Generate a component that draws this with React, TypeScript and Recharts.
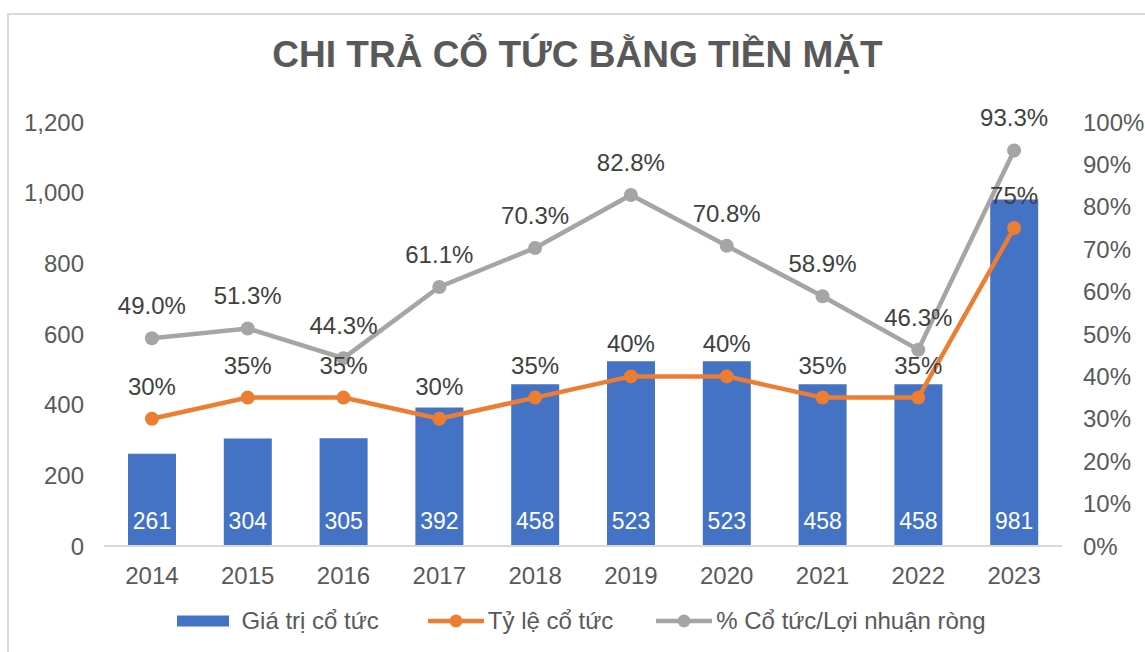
import React from 'react';
import {
  ComposedChart, Bar, Line, XAxis, YAxis, LabelList, Legend,
} from 'recharts';

const years = ['2014', '2015', '2016', '2017', '2018', '2019', '2020', '2021', '2022', '2023'];
const dividendValue = [261, 304, 305, 392, 458, 523, 523, 458, 458, 981];
const payoutRatio = [30, 35, 35, 30, 35, 40, 40, 35, 35, 75];
const profitShare = [49.0, 51.3, 44.3, 61.1, 70.3, 82.8, 70.8, 58.9, 46.3, 93.3];
const leftTicks = [0, 200, 400, 600, 800, 1000, 1200];
const rightTicks = [0, 10, 20, 30, 40, 50, 60, 70, 80, 90, 100];

const title = 'CHI TRẢ CỔ TỨC BẰNG TIỀN MẶT';
const seriesNames = {
  value: 'Giá trị cổ tức',
  ratio: 'Tỷ lệ cổ tức',
  share: '% Cổ tức/Lợi nhuận ròng',
};

const COLORS = { value: '#4472c4', ratio: '#ed7d31', share: '#a5a5a5' };
const FONT = '"Liberation Sans", Arial, sans-serif';
const FS = 24;

const data = years.map((y, i) => ({
  year: y,
  value: dividendValue[i],
  ratio: payoutRatio[i],
  share: profitShare[i],
}));

const legendItems = [
  { key: 'value', type: 'rect', gapAfter: 49 },
  { key: 'ratio', type: 'line', gapAfter: 43 },
  { key: 'share', type: 'line', gapAfter: 0 },
];

const LegendContent = () => (
  <div
    style={{
      display: 'flex',
      justifyContent: 'center',
      alignItems: 'center',
      height: 30,
      fontFamily: FONT,
      fontSize: FS,
      color: '#595959',
      paddingLeft: 18,
      whiteSpace: 'nowrap',
    }}
  >
    {legendItems.map((it) => (
      <div
        key={it.key}
        style={{ display: 'flex', alignItems: 'center', marginRight: it.gapAfter }}
      >
        {it.type === 'rect' ? (
          <svg width={52} height={14} style={{ marginRight: 12 }}>
            <rect x={0} y={1.5} width={52} height={11} fill={COLORS[it.key]} />
          </svg>
        ) : (
          <svg width={56} height={14} style={{ marginRight: 4 }}>
            <line x1={1} y1={7} x2={55} y2={7} stroke={COLORS[it.key]} strokeWidth={4.5} strokeLinecap="round" />
            <circle cx={28} cy={7} r={6.5} fill={COLORS[it.key]} />
          </svg>
        )}
        <span style={{ lineHeight: '30px' }}>{seriesNames[it.key]}</span>
      </div>
    ))}
  </div>
);

export default function App() {
  return (
    <div
      style={{
        position: 'absolute',
        left: 0,
        top: 0,
        width: 1145,
        height: 652,
        overflow: 'hidden',
        background: '#ffffff',
        fontFamily: FONT,
      }}
    >
      <div
        style={{
          position: 'absolute',
          left: 7,
          top: 13,
          width: 1200,
          height: 700,
          border: '2px solid #d9d9d9',
          boxSizing: 'border-box',
        }}
      />
      <div
        style={{
          position: 'absolute',
          left: 0,
          top: 33,
          width: 1155,
          textAlign: 'center',
          fontSize: 37,
          fontWeight: 'bold',
          color: '#595959',
          lineHeight: '44px',
          fontFamily: FONT,
        }}
      >
        {title}
      </div>
      <div style={{ position: 'absolute', left: 0, top: 0 }}>
        <ComposedChart
          width={1145}
          height={652}
          data={data}
          margin={{ top: 122, right: 0, bottom: 16, left: 0 }}
          barSize={48}
        >
          <XAxis
            dataKey="year"
            axisLine={{ stroke: '#d9d9d9', strokeWidth: 2 }}
            tickLine={false}
            tickSize={0}
            tickMargin={21}
            height={60}
            tick={{ fill: '#595959', fontSize: FS, fontFamily: FONT }}
          />
          <YAxis
            yAxisId="left"
            orientation="left"
            width={104}
            domain={[0, 1200]}
            ticks={leftTicks}
            axisLine={false}
            tickLine={false}
            tickSize={0}
            tickMargin={20}
            tickFormatter={(v) => v.toLocaleString('en-US')}
            tick={{ fill: '#595959', fontSize: FS, fontFamily: FONT }}
          />
          <YAxis
            yAxisId="right"
            orientation="right"
            width={83}
            domain={[0, 100]}
            ticks={rightTicks}
            axisLine={false}
            tickLine={false}
            tickSize={0}
            tickMargin={21}
            tickFormatter={(v) => `${v}%`}
            tick={{ fill: '#595959', fontSize: FS, fontFamily: FONT, textAnchor: 'start' }}
          />
          <Legend verticalAlign="bottom" height={30} content={<LegendContent />} />
          <Bar
            yAxisId="left"
            dataKey="value"
            name={seriesNames.value}
            fill={COLORS.value}
            isAnimationActive={false}
          >
            <LabelList
              dataKey="value"
              position="insideBottom"
              offset={17}
              fill="#ffffff"
              style={{ fontSize: 23, fontFamily: FONT }}
            />
          </Bar>
          <Line
            yAxisId="right"
            dataKey="ratio"
            name={seriesNames.ratio}
            stroke={COLORS.ratio}
            strokeWidth={4.5}
            dot={{ r: 7, fill: COLORS.ratio, stroke: COLORS.ratio, strokeWidth: 0 }}
            activeDot={false}
            isAnimationActive={false}
          >
            <LabelList
              dataKey="ratio"
              position="top"
              offset={24}
              fill="#404040"
              formatter={(v) => `${v}%`}
              style={{ fontSize: FS, fontFamily: FONT }}
            />
          </Line>
          <Line
            yAxisId="right"
            dataKey="share"
            name={seriesNames.share}
            stroke={COLORS.share}
            strokeWidth={4.5}
            dot={{ r: 7, fill: COLORS.share, stroke: COLORS.share, strokeWidth: 0 }}
            activeDot={false}
            isAnimationActive={false}
          >
            <LabelList
              dataKey="share"
              position="top"
              offset={24}
              fill="#404040"
              formatter={(v) => `${Number(v).toFixed(1)}%`}
              style={{ fontSize: FS, fontFamily: FONT }}
            />
          </Line>
        </ComposedChart>
      </div>
    </div>
  );
}
